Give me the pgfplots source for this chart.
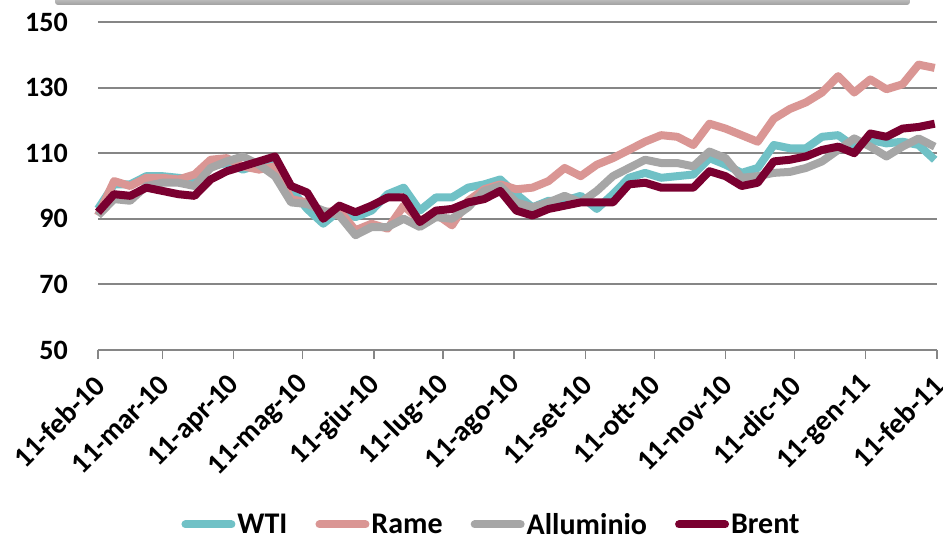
\documentclass[border=0pt]{standalone}
\usepackage{fontspec}
\setmainfont{Carlito}
\usepackage{pgfplots}
\usepackage{pgfplotstable}
\pgfplotsset{compat=1.18}

\definecolor{wti}{RGB}{112,193,198}
\definecolor{rame}{RGB}{218,150,148}
\definecolor{allu}{RGB}{166,166,166}
\definecolor{brent}{RGB}{122,0,48}
\definecolor{gridgray}{RGB}{134,134,134}

% weekly index values, day = days after 11 Feb 2010
\pgfplotstableread{
day wti rame allu brent
0 93 91 91 92
7 100.5 101.5 96 97.5
14 100.5 100 95.5 97
21 103 102.5 100 99.5
28 103 102.5 101 98.5
35 102.5 102 101 97.5
42 102 103.5 100 97
49 106 108 105.5 102
56 107 108.5 107.5 104.5
63 105 106 109 106
70 106.5 105 106.5 107.5
77 108 106 103 109
84 99 96 95 100
91 93 95 94.5 98
98 88.5 92 92.5 90
105 92.5 92.5 91 94
112 90.5 86.5 85 92
119 92.5 88.5 87.5 94
126 97.5 87 87.5 96.5
133 99.5 94 90 96.5
140 92.5 89.5 87.5 89
147 96.5 91.5 90.5 92.5
154 96.5 88 90 93
161 99.5 95.5 93.5 95
168 100.5 99 98.5 96
175 102 100.5 100 98.5
182 97.5 99 95 92.5
189 93.5 99.5 93.5 91
196 95.5 101.5 95 93
203 95.5 105.5 97 94
210 97 103 95 95
217 93 106.5 98.5 95
224 97.5 108.5 103 95
231 102.5 111 105.5 100.5
238 104 113.5 108 101
245 102.5 115.5 107 99.5
252 103 115 107 99.5
259 103.5 112.5 106 99.5
266 108.5 119 110.5 104.5
273 106.5 117.5 108.5 103
280 104 115.5 102.5 100
287 105.5 113.5 103 101
294 112.5 120.5 104 107.5
301 111.5 123.5 104.3 108
308 111.5 125.5 105.5 109
315 115 128.5 107.5 111
322 115.5 133.5 111 112
329 112 128.5 114.5 110
336 114 132.5 112 116
343 113 129.5 109 115
350 113.5 131 112 117.5
357 112.5 137 114.5 118
364 108 136 112 119
}\prices

\begin{document}
\begin{tikzpicture}
\useasboundingbox (0,0) rectangle (943pt,539pt);
% frame edge at the top
\shade[top color=gray!30, bottom color=gray!75, rounded corners=3pt]
  (55pt,534pt) rectangle (910pt,545pt);
\begin{axis}[
  at={(98pt,189pt)}, anchor=south west,
  scale only axis, width=839pt, height=328pt,
  xmin=0, xmax=365, ymin=50, ymax=150,
  clip=false,
  axis lines*=left,
  axis line style={-},
  y axis line style={draw=none},
  x axis line style={gridgray, line width=2pt},
  xtick={0,28,59,89,120,150,181,212,242,273,303,334,365},
  xticklabels={11-feb-10,11-mar-10,11-apr-10,11-mag-10,11-giu-10,11-lug-10,11-ago-10,11-set-10,11-ott-10,11-nov-10,11-dic-10,11-gen-11,11-feb-11},
  ytick={50,70,...,150},
  xtick align=outside,
  major tick length=9pt,
  xtick style={gridgray, line width=1.5pt},
  ytick style={draw=none},
  ymajorgrids,
  grid style={gridgray, line width=2pt},
  tick label style={font=\bfseries\fontsize{28}{30}\selectfont},
  /pgf/number format/assume math mode=true,
  yticklabel style={inner sep=0pt, xshift=-30pt},
  xticklabel style={shift={(3pt,-20pt)}, rotate=45, anchor=east, inner sep=2pt,
    font=\bfseries\fontsize{29}{30}\selectfont},
  legend columns=4,
  legend style={at={(axis description cs:0.469,-0.532)}, anchor=center,
    draw=none, fill=none, inner sep=0pt,
    font=\bfseries\fontsize{30}{32}\selectfont,
    /tikz/every even column/.append style={column sep=26pt}},
  legend image code/.code={\draw[#1, line cap=round] (0pt,0pt) -- (46pt,0pt);},
  every axis plot/.append style={line width=8pt, line join=round, no markers},
]
\addplot[wti] table[x=day, y=wti] {\prices};
\addlegendentry{WTI}
\addplot[rame] table[x=day, y=rame] {\prices};
\addlegendentry{Rame}
\addplot[allu] table[x=day, y=allu] {\prices};
\addlegendentry{Alluminio}
\addplot[brent] table[x=day, y=brent] {\prices};
\addlegendentry{Brent}
\end{axis}
\end{tikzpicture}
\end{document}
